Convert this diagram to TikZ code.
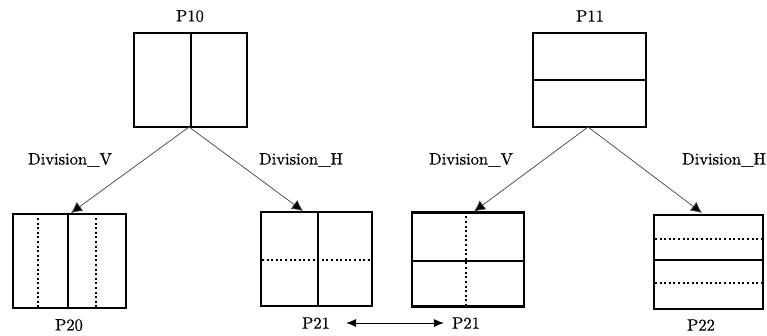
\documentclass[tikz,border=0pt]{standalone}
\usepackage{fontspec}
\setmainfont{lmroman10-regular.otf}[FakeBold=0.6]
\usetikzlibrary{arrows.meta,calc}
\begin{document}
\begin{tikzpicture}[x=1pt,y=-1pt,
  lbl/.style={inner sep=0pt,font=\fontsize{16.5}{20}\selectfont},
  panel/.style={draw,line width=2.4pt,minimum width=#1,minimum height=94pt,inner sep=0pt,outer sep=0pt},
  split/.style={line width=2pt},
  dots/.style={line width=2.3pt,dash pattern=on 2pt off 2.6pt},
  conn/.style={draw=black!75,line width=0.7pt,-{Latex[length=11pt,width=11pt,fill=black]}},
  both/.style={line width=0.9pt,{Latex[length=10pt,width=8pt]}-{Latex[length=10pt,width=8pt]}}]
\useasboundingbox (0,0) rectangle (767,336);
% boxes
\node[panel=113pt] (P10) at (190.5,80) {};
\node[panel=113pt] (P11) at (589.5,80) {};
\node[panel=113pt] (P20) at (69.5,261) {};
\node[panel=111pt] (P21a) at (316.5,259) {};
\node[panel=112pt] (P21b) at (468,259.5) {};
\node[panel=109pt] (P22) at (708.5,262) {};
% inner divisions
\draw[split] (P10.north) -- (P10.south);
\draw[split] (P11.west) -- (P11.east);
\draw[split] ($(P20.north)+(-1.5,0)$) -- ($(P20.south)+(-1.5,0)$);
\draw[dots] ($(P20.north)+(-31.5,4)$) -- ($(P20.south)+(-31.5,0)$);
\draw[dots] ($(P20.north)+(26.5,4)$) -- ($(P20.south)+(26.5,0)$);
\draw[split] ($(P21a.north)+(1.5,0)$) -- ($(P21a.south)+(1.5,0)$);
\draw[dots] ($(P21a.west)+(1,1)$) -- ($(P21a.east)+(0,1)$);
\draw[split] ($(P21b.west)+(0,1.5)$) -- ($(P21b.east)+(0,1.5)$);
\draw[dots] ($(P21b.north)+(-2,4)$) -- ($(P21b.south)+(-2,0)$);
\draw[split] ($(P22.west)+(0,-2)$) -- ($(P22.east)+(0,-2)$);
\draw[dots] ($(P22.west)+(1,-23)$) -- ($(P22.east)+(0,-23)$);
\draw[dots] ($(P22.west)+(1,21)$) -- ($(P22.east)+(0,21)$);
% labels
\node[lbl] (t10) at (190,16) {P10};
\node[lbl] (t11) at (590,16) {P11};
\node[lbl] (t20) at (69,325) {P20};
\node[lbl] (t21a) at (316,323) {P21};
\node[lbl] (t21b) at (466,323) {P21};
\node[lbl] (t22) at (701,325) {P22};
\node[lbl] (dv1) at (70,160) {Division\_V};
\node[lbl] (dh1) at (301,160) {Division\_H};
\node[lbl] (dv2) at (471,160) {Division\_V};
\node[lbl] (dh2) at (724,160) {Division\_H};
% connectors
\draw[conn] ($(P10.south)+(-1.5,0)$) -- ($(P20.north)+(1.5,-1)$);
\draw[conn] ($(P10.south)+(-1.5,0)$) -- ($(P21a.north)+(-13.5,-1)$);
\draw[conn] ($(P11.south)+(-1.5,0)$) -- ($(P21b.north)+(6,-1)$);
\draw[conn] ($(P11.south)+(-1.5,0)$) -- ($(P22.north)+(-6.5,-2)$);
\draw[both,shorten <=16pt,shorten >=8pt] (t21a.east) -- (t21b.west);
\end{tikzpicture}
\end{document}
